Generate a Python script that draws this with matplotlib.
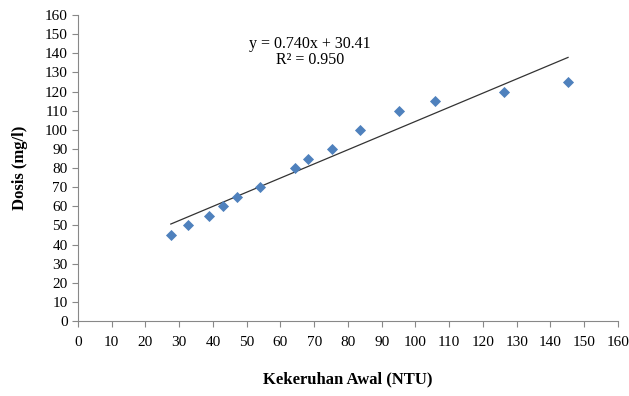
import numpy as np
import matplotlib.pyplot as plt

plt.rcParams['font.family'] = ['Liberation Serif', 'DejaVu Serif']

# data
kekeruhan = [27.5, 32.5, 38.8, 43.0, 47.1, 53.9, 64.3, 68.1, 75.3, 83.6, 95.1, 105.8, 126.2, 145.2]
dosis = [45, 50, 55, 60, 65, 70, 80, 85, 90, 100, 110, 115, 120, 125]
slope = 0.740
intercept = 30.41
r2 = 0.950

fig = plt.figure(figsize=(6.29, 3.96), dpi=100)
ax = fig.add_axes([0.124, 0.189, 0.8585, 0.773])

ax.scatter(kekeruhan, dosis, marker='D', s=32, color='#4F81BD', zorder=3, linewidths=0)

# trendline
xt = np.array([min(kekeruhan), max(kekeruhan)])
ax.plot(xt, slope * xt + intercept, color='#333333', lw=0.9, zorder=2)

ax.text(0.43, 0.905, 'y = %.3fx + %.2f' % (slope, intercept), transform=ax.transAxes,
        ha='center', va='center', fontsize=11.5)
ax.text(0.43, 0.853, 'R² = %.3f' % r2, transform=ax.transAxes,
        ha='center', va='center', fontsize=11.5)

ax.set_xlim(0, 160)
ax.set_ylim(0, 160)
ax.set_xticks(range(0, 161, 10))
ax.set_yticks(range(0, 161, 10))

for s in ['top', 'right']:
    ax.spines[s].set_visible(False)
for s in ['left', 'bottom']:
    ax.spines[s].set_color('#888888')
    ax.spines[s].set_linewidth(0.8)
ax.tick_params(direction='out', length=4, width=0.8, color='#888888', labelsize=11)
ax.tick_params(axis='x', pad=7)

ax.set_xlabel('Kekeruhan Awal (NTU)', fontsize=12, fontweight='bold', labelpad=16)
ax.set_ylabel('Dosis (mg/l)', fontsize=12, fontweight='bold', labelpad=12)

fig.savefig('out.png', dpi=100)
